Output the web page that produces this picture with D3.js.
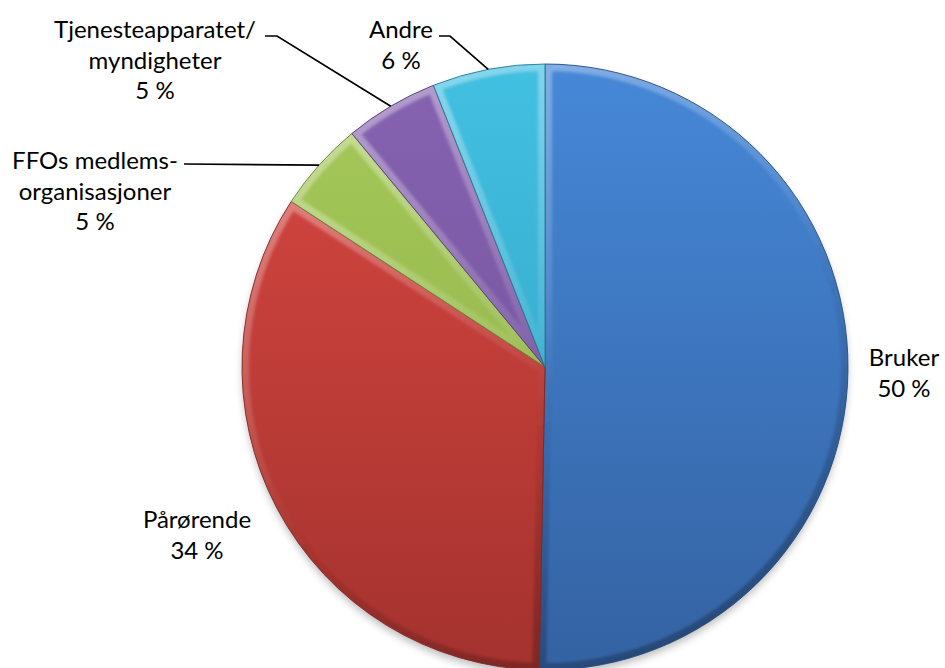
<!DOCTYPE html>
<html>
<head>
<meta charset="utf-8">
<script src="https://cdn.jsdelivr.net/npm/d3@7"></script>
<style>
  html, body { margin: 0; padding: 0; background: #fff; }
  svg { display: block; }
</style>
</head>
<body>
<div id="chart"></div>
<script>
// data (clockwise from 12 o'clock)
const categories = ["Bruker", "Pårørende", "FFOs medlems-organisasjoner", "Tjenesteapparatet/myndigheter", "Andre"];
const labelLines = [["Bruker"], ["Pårørende"], ["FFOs medlems-", "organisasjoner"], ["Tjenesteapparatet/", "myndigheter"], ["Andre"]];
const shares = [50.3, 33.9, 4.8, 5.0, 6.0];
const shareLabels = ["50 %", "34 %", "5 %", "5 %", "6 %"];

const CONFIG = {
  width: 945,
  height: 668,
  cx: 545,
  cy: 367,
  r: 303,
  font: "Lato, 'Open Sans', sans-serif",
  fontSize: 24,
  lineHeight: 30.5,
  // top / bottom of the vertical gradient per slice
  colors: [
    ["#4688d8", "#3462a2"],
    ["#da4842", "#a4322e"],
    ["#a7ca5a", "#8aab45"],
    ["#8763b1", "#6c4e96"],
    ["#42c0e2", "#2e9dbc"]
  ],
  // text anchor (centre x, first baseline y) and optional leader elbow
  labels: [
    { x: 904, y: 366 },
    { x: 197, y: 528 },
    { x: 95, y: 169, leader: [[184, 164]] },
    { x: 155, y: 38, leader: [[265, 36], [277, 36]] },
    { x: 401, y: 38, leader: [[439, 36], [450, 36]] }
  ]
};

const svg = d3.select("#chart").append("svg")
  .attr("width", CONFIG.width)
  .attr("height", CONFIG.height);

const defs = svg.append("defs");

const vGrad = (id) => defs.append("linearGradient")
  .attr("id", id)
  .attr("gradientUnits", "userSpaceOnUse")
  .attr("x1", 0).attr("x2", 0)
  .attr("y1", -CONFIG.r).attr("y2", CONFIG.r);

CONFIG.colors.forEach((c, i) => {
  const g = vGrad("fill" + i);
  g.append("stop").attr("offset", 0).attr("stop-color", c[0]);
  g.append("stop").attr("offset", 1).attr("stop-color", c[1]);
});

// bevel light: light on top, dark at the bottom
const bevel = defs.append("linearGradient")
  .attr("id", "bevel")
  .attr("gradientUnits", "userSpaceOnUse")
  .attr("x1", -CONFIG.r * 0.5).attr("x2", CONFIG.r * 0.5)
  .attr("y1", -CONFIG.r).attr("y2", CONFIG.r);
bevel.append("stop").attr("offset", 0).attr("stop-color", "#fff").attr("stop-opacity", 0.4);
bevel.append("stop").attr("offset", 0.45).attr("stop-color", "#fff").attr("stop-opacity", 0.08);
bevel.append("stop").attr("offset", 0.6).attr("stop-color", "#000").attr("stop-opacity", 0.05);
bevel.append("stop").attr("offset", 1).attr("stop-color", "#000").attr("stop-opacity", 0.3);

defs.append("filter").attr("id", "shadow")
  .attr("x", "-10%").attr("y", "-10%").attr("width", "120%").attr("height", "120%")
  .append("feGaussianBlur").attr("stdDeviation", 4);

defs.append("filter").attr("id", "soft")
  .append("feGaussianBlur").attr("stdDeviation", 1.6);

const pie = d3.pie().sort(null).value(d => d);
const arcs = pie(shares);

const arc = d3.arc().innerRadius(0).outerRadius(CONFIG.r);

arcs.forEach((d, i) => {
  defs.append("clipPath").attr("id", "clip" + i)
    .append("path").attr("d", arc(d));
});

const g = svg.append("g")
  .attr("transform", `translate(${CONFIG.cx},${CONFIG.cy})`);

// soft shadow under the pie
g.append("circle")
  .attr("cx", 0).attr("cy", 5)
  .attr("r", CONFIG.r - 1)
  .attr("fill", "#000")
  .attr("opacity", 0.28)
  .attr("filter", "url(#shadow)");

const slice = g.selectAll("g.slice")
  .data(arcs)
  .join("g")
  .attr("class", "slice");

slice.append("path")
  .attr("d", arc)
  .attr("fill", (d, i) => `url(#fill${i})`);

// inner bevel band, stroke kept inside the slice by its clip
slice.append("g")
  .attr("clip-path", (d, i) => `url(#clip${i})`)
  .append("path")
  .attr("d", arc)
  .attr("fill", "none")
  .attr("stroke", "url(#bevel)")
  .attr("stroke-width", 14)
  .attr("stroke-linejoin", "round")
  .attr("filter", "url(#soft)");

slice.append("path")
  .attr("d", arc)
  .attr("fill", "none")
  .attr("stroke", (d, i) => d3.color(CONFIG.colors[i][1]).darker(0.7))
  .attr("stroke-width", 0.9)
  .attr("stroke-linejoin", "round");

// leader lines end on the slice edge, at the middle angle
const leaders = svg.append("g")
  .attr("fill", "none")
  .attr("stroke", "#000")
  .attr("stroke-width", 1.7);

arcs.forEach((d, i) => {
  const lab = CONFIG.labels[i];
  if (!lab.leader) return;
  const mid = (d.startAngle + d.endAngle) / 2;
  const end = [CONFIG.cx + CONFIG.r * Math.sin(mid), CONFIG.cy - CONFIG.r * Math.cos(mid)];
  leaders.append("path")
    .attr("d", d3.line()(lab.leader.concat([end])));
});

// labels
const text = svg.append("g")
  .attr("font-family", CONFIG.font)
  .attr("font-size", CONFIG.fontSize)
  .attr("fill", "#000")
  .attr("text-anchor", "middle");

arcs.forEach((d, i) => {
  const lab = CONFIG.labels[i];
  const lines = labelLines[i].concat(shareLabels[i]);
  text.append("text")
    .selectAll("tspan")
    .data(lines)
    .join("tspan")
    .attr("x", lab.x)
    .attr("y", (s, j) => lab.y + j * CONFIG.lineHeight)
    .text(s => s);
});
</script>
</body>
</html>
